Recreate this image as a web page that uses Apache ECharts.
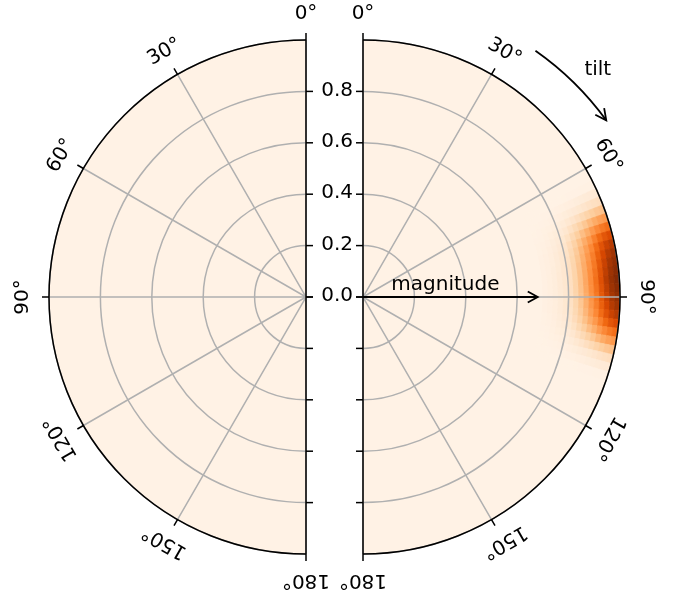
<!DOCTYPE html>
<html><head><meta charset="utf-8">
<script src="https://cdn.jsdelivr.net/npm/echarts@6/dist/echarts.min.js"></script>
<style>html,body{margin:0;padding:0;background:#fff}#c{width:673px;height:593px}</style>
</head><body><div id="c"></div>
<script>
// ---------- data ----------
const angleTicks = [0, 30, 60, 90, 120, 150, 180];
const angleTickLabels = ['0°', '30°', '60°', '90°', '120°', '150°', '180°'];
const radialTicks = [0, 0.2, 0.4, 0.6, 0.8];
const radialTickLabels = ['0.0', '0.2', '0.4', '0.6', '0.8'];
const leftBaseValue = 0.025;
const rightBaseValue = 0.025;
// right-hand hot spot: angle bin edges (deg), radius bin edges, values per radius row
const heatAngleEdges = [63, 65, 67, 69, 71, 73, 75, 77, 79, 81, 83, 85, 87, 89, 91, 93, 95, 97, 99, 101, 103, 105, 107, 109];
const heatRadiusEdges = [0.70, 0.72, 0.74, 0.76, 0.78, 0.80, 0.82, 0.84, 0.86, 0.88, 0.90, 0.92, 0.94, 0.96, 0.98, 1.00];
const heatValues = [
  [.025,.026,.027,.029,.032,.034,.036,.038,.039,.039,.040,.040,.040,.039,.039,.038,.036,.034,.032,.029,.027,.026,.025],
  [.025,.027,.029,.032,.036,.040,.044,.046,.048,.049,.050,.050,.050,.049,.048,.046,.044,.040,.036,.032,.029,.027,.025],
  [.025,.028,.031,.037,.043,.049,.055,.059,.061,.063,.064,.065,.064,.063,.061,.059,.055,.049,.043,.037,.031,.028,.025],
  [.026,.030,.035,.044,.054,.065,.074,.080,.084,.087,.089,.090,.089,.087,.084,.080,.074,.065,.054,.044,.035,.030,.026],
  [.026,.032,.039,.053,.068,.083,.096,.106,.111,.115,.118,.120,.118,.115,.111,.106,.096,.083,.068,.053,.039,.032,.026],
  [.026,.035,.046,.066,.088,.110,.130,.144,.152,.158,.162,.165,.162,.158,.152,.144,.130,.110,.088,.066,.046,.035,.026],
  [.027,.039,.056,.084,.117,.150,.179,.199,.212,.220,.226,.230,.226,.220,.212,.199,.179,.150,.117,.084,.056,.039,.027],
  [.028,.045,.068,.108,.153,.199,.239,.267,.284,.296,.304,.310,.304,.296,.284,.267,.239,.199,.153,.108,.068,.045,.028],
  [.029,.051,.081,.134,.194,.254,.306,.344,.366,.381,.393,.400,.393,.381,.366,.344,.306,.254,.194,.134,.081,.051,.029],
  [.030,.058,.096,.163,.239,.315,.381,.429,.457,.476,.491,.500,.491,.476,.457,.429,.381,.315,.239,.163,.096,.058,.030],
  [.031,.065,.111,.192,.284,.376,.456,.514,.548,.571,.589,.600,.589,.571,.548,.514,.456,.376,.284,.192,.111,.065,.031],
  [.032,.074,.129,.227,.338,.449,.546,.616,.657,.685,.706,.720,.706,.685,.657,.616,.546,.449,.338,.227,.129,.074,.032],
  [.033,.081,.146,.258,.387,.516,.629,.709,.758,.790,.814,.830,.814,.790,.758,.709,.629,.516,.387,.258,.146,.081,.033],
  [.034,.088,.159,.285,.428,.571,.696,.786,.839,.875,.902,.920,.902,.875,.839,.786,.696,.571,.428,.285,.159,.088,.034],
  [.035,.092,.168,.302,.455,.608,.741,.837,.894,.932,.961,.980,.961,.932,.894,.837,.741,.608,.455,.302,.168,.092,.035]
];
// annotations (data units)
const magnitudeArrow = { length: 0.68, angle: 90, textStart: 0.11 };
const tiltArrow = { radius: 1.17, from: 35, to: 54, textRadius: 1.27, textAngle: 46 };

const oranges = ['#fff5eb','#fee6ce','#fdd0a2','#fdae6b','#fd8d3c','#f16913','#d94801','#a63603','#7f2704'];
const FONT = '20px "DejaVu Sans"';

// ---------- build tables ----------
const leftHeat = [[0, 180, 0, 1, leftBaseValue]];
const rightHeat = [[0, 180, 0, 1, rightBaseValue]];
for (let i = 0; i < heatValues.length; i++) {
  for (let j = 0; j < heatValues[i].length; j++) {
    rightHeat.push([heatAngleEdges[j], heatAngleEdges[j + 1], heatRadiusEdges[i], heatRadiusEdges[i + 1], heatValues[i][j]]);
  }
}

// ---------- helpers ----------
function geo(api) {
  const c = api.coord([0, 0]);
  return {
    c,
    ang: p => Math.atan2(p[1] - c[1], p[0] - c[0]),
    dist: p => Math.hypot(p[0] - c[0], p[1] - c[1])
  };
}
function renderSector(params, api) {
  const a0 = api.value(0), a1 = api.value(1), r0 = api.value(2), r1 = api.value(3);
  const g = geo(api);
  const pA0 = api.coord([1, a0]), pA1 = api.coord([1, a1]), pM = api.coord([1, (a0 + a1) / 2]);
  const v0 = [pA0[0] - g.c[0], pA0[1] - g.c[1]], vm = [pM[0] - g.c[0], pM[1] - g.c[1]];
  const cw = v0[0] * vm[1] - v0[1] * vm[0] > 0;
  const color = api.visual('color');
  return {
    type: 'sector',
    shape: { cx: g.c[0], cy: g.c[1], r0: g.dist(api.coord([r0, a0])), r: g.dist(api.coord([r1, a0])),
             startAngle: g.ang(pA0), endAngle: g.ang(pA1), clockwise: cw },
    style: { fill: color, stroke: color, lineWidth: 0.8 }
  };
}
function renderSpine(params, api) {
  const p0 = api.coord([1, 0]), p1 = api.coord([1, 180]);
  return { type: 'line', shape: { x1: p0[0], y1: p0[1], x2: p1[0], y2: p1[1] },
           style: { stroke: '#000', lineWidth: 1.5 } };
}
function renderRadialTick(params, api) {
  const r = api.value(0);
  const g = geo(api);
  const inner = api.coord([1, 90]);
  const dir = inner[0] > g.c[0] ? -1 : 1; // ticks point into the gap
  const children = [0, 180].map(a => {
    const p = api.coord([r, a]);
    return { type: 'line', shape: { x1: p[0], y1: p[1], x2: p[0] + dir * 7, y2: p[1] },
             style: { stroke: '#000', lineWidth: 1.5 } };
  });
  return { type: 'group', children };
}
function renderRadialLabel(params, api) {
  const r = api.value(0);
  const p = api.coord([r, 0]);
  return { type: 'text', x: p[0] - 10, y: p[1] - 1,
           style: { text: radialTickLabels[params.dataIndex], font: FONT, fill: '#000', align: 'right', verticalAlign: 'middle' } };
}
function renderAngleLabel(params, api) {
  const a = api.value(1);
  const g = geo(api);
  const p = api.coord([1, a]);
  const d = g.dist(p);
  const ux = (p[0] - g.c[0]) / d, uy = (p[1] - g.c[1]) / d;
  const phi = Math.atan2(uy, ux);
  return { type: 'text', x: p[0] + ux * 26, y: p[1] + uy * 26, rotation: -(phi + Math.PI / 2),
           style: { text: angleTickLabels[params.dataIndex], font: FONT, fill: '#000', align: 'center', verticalAlign: 'middle' } };
}
function chevron(tip, dir, len, half, lw) {
  const px = -dir[1], py = dir[0];
  return { type: 'polyline', shape: { points: [
      [tip[0] - dir[0] * len + px * half, tip[1] - dir[1] * len + py * half],
      tip,
      [tip[0] - dir[0] * len - px * half, tip[1] - dir[1] * len - py * half]] },
    style: { stroke: '#000', lineWidth: lw, fill: 'none' } };
}
function renderMagnitude(params, api) {
  const p0 = api.coord([0, magnitudeArrow.angle]);
  const p1 = api.coord([magnitudeArrow.length, magnitudeArrow.angle]);
  const d = Math.hypot(p1[0] - p0[0], p1[1] - p0[1]);
  const dir = [(p1[0] - p0[0]) / d, (p1[1] - p0[1]) / d];
  const pt = api.coord([magnitudeArrow.textStart, magnitudeArrow.angle]);
  return { type: 'group', children: [
    { type: 'line', shape: { x1: p0[0], y1: p0[1], x2: p1[0], y2: p1[1] }, style: { stroke: '#000', lineWidth: 1.8 } },
    chevron(p1, dir, 10, 5.5, 1.8),
    { type: 'text', x: pt[0], y: pt[1] - 12, style: { text: 'magnitude', font: FONT, fill: '#000', align: 'left', verticalAlign: 'middle' } }
  ] };
}
function renderTilt(params, api) {
  const g = geo(api);
  const p0 = api.coord([tiltArrow.radius, tiltArrow.from]);
  const p1 = api.coord([tiltArrow.radius, tiltArrow.to]);
  const pb = api.coord([tiltArrow.radius, tiltArrow.to - 1]);
  const d = Math.hypot(p1[0] - pb[0], p1[1] - pb[1]);
  const dir = [(p1[0] - pb[0]) / d, (p1[1] - pb[1]) / d];
  const pt = api.coord([tiltArrow.textRadius, tiltArrow.textAngle]);
  return { type: 'group', children: [
    { type: 'arc', shape: { cx: g.c[0], cy: g.c[1], r: g.dist(p0), startAngle: g.ang(p0), endAngle: g.ang(p1), clockwise: true },
      style: { stroke: '#000', lineWidth: 1.8, fill: 'none' } },
    chevron(p1, dir, 11, 5.5, 1.8),
    { type: 'text', x: pt[0], y: pt[1], style: { text: 'tilt', font: FONT, fill: '#000', align: 'center', verticalAlign: 'middle' } }
  ] };
}

// ---------- option ----------
function angleAxisCfg(idx, endAngle, clockwise) {
  return {
    polarIndex: idx, type: 'value', min: 0, max: 180, interval: 30,
    startAngle: 90, endAngle: endAngle, clockwise: clockwise, z: 4,
    axisLine: { show: true, lineStyle: { color: '#000', width: 1.5 } },
    axisTick: { show: true, length: 7, inside: false, lineStyle: { color: '#000', width: 1.5 } },
    axisLabel: { show: false },
    splitLine: { show: true, lineStyle: { color: '#b0b0b0', width: 1.5 } }
  };
}
function radiusAxisCfg(idx) {
  return {
    polarIndex: idx, type: 'value', min: 0, max: 1, interval: 0.2, z: 3,
    axisLine: { show: false }, axisTick: { show: false }, axisLabel: { show: false },
    splitLine: { show: true, lineStyle: { color: '#b0b0b0', width: 1.5 } }
  };
}
const tickData = radialTicks.map(r => [r, 0]);
const angleData = angleTicks.map(a => [1, a]);

const option = {
  backgroundColor: '#fff',
  animation: false,
  polar: [
    { center: [306, 297], radius: 257 },
    { center: [363, 297], radius: 257 }
  ],
  angleAxis: [angleAxisCfg(0, 270, false), angleAxisCfg(1, -90, true)],
  radiusAxis: [radiusAxisCfg(0), radiusAxisCfg(1)],
  visualMap: { type: 'continuous', show: false, min: 0, max: 1, dimension: 4, seriesIndex: [0, 1], inRange: { color: oranges } },
  series: [
    { type: 'custom', coordinateSystem: 'polar', polarIndex: 0, z: 1, renderItem: renderSector, data: leftHeat, silent: true },
    { type: 'custom', coordinateSystem: 'polar', polarIndex: 1, z: 1, renderItem: renderSector, data: rightHeat, silent: true },
    { type: 'custom', coordinateSystem: 'polar', polarIndex: 0, z: 10, renderItem: renderSpine, data: [[1, 0]], silent: true },
    { type: 'custom', coordinateSystem: 'polar', polarIndex: 1, z: 10, renderItem: renderSpine, data: [[1, 0]], silent: true },
    { type: 'custom', coordinateSystem: 'polar', polarIndex: 0, z: 10, renderItem: renderRadialTick, data: tickData, silent: true },
    { type: 'custom', coordinateSystem: 'polar', polarIndex: 1, z: 10, renderItem: renderRadialTick, data: tickData, silent: true },
    { type: 'custom', coordinateSystem: 'polar', polarIndex: 1, z: 10, renderItem: renderRadialLabel, data: tickData, silent: true },
    { type: 'custom', coordinateSystem: 'polar', polarIndex: 0, z: 10, renderItem: renderAngleLabel, data: angleData, silent: true },
    { type: 'custom', coordinateSystem: 'polar', polarIndex: 1, z: 10, renderItem: renderAngleLabel, data: angleData, silent: true },
    { type: 'custom', coordinateSystem: 'polar', polarIndex: 1, z: 10, renderItem: renderMagnitude, data: [[magnitudeArrow.length, magnitudeArrow.angle]], silent: true },
    { type: 'custom', coordinateSystem: 'polar', polarIndex: 1, z: 10, renderItem: renderTilt, data: [[tiltArrow.radius, tiltArrow.from]], silent: true }
  ]
};
const chart = echarts.init(document.getElementById('c'), null, { renderer: 'canvas' });
chart.setOption(option);
</script>
</body></html>
